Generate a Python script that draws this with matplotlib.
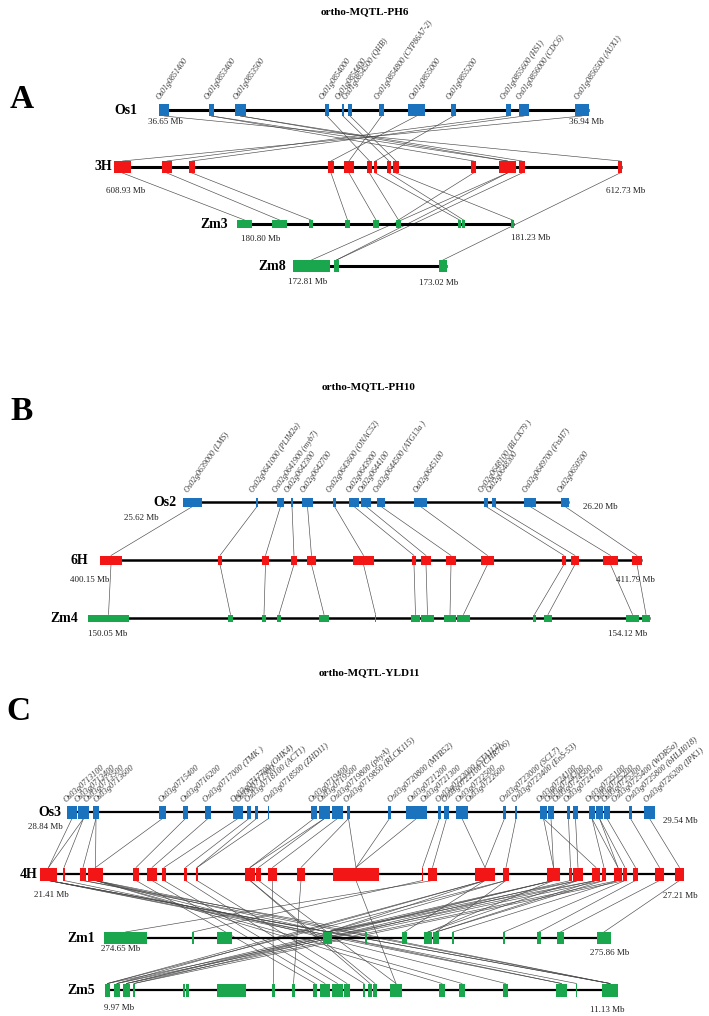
import matplotlib
matplotlib.use("Agg")
import matplotlib.pyplot as plt

plt.rcParams['font.family'] = ['Liberation Serif', 'DejaVu Serif']

# ---------------- DATA ----------------
# Panel A  (block spans along each track, chart x units)
A_os1 = [(159,169),(209,214),(235,246),(325,329),(342,344),(348,352),(379,384),
         (408,425),(451,456),(506,511),(519,529),(575,589)]
A_3h = [(114,131),(162,172),(189,195),(328,334),(344,354),(367,372),(374,377),
        (387,391),(393,399),(471,476),(499,516),(519,525),(618,622)]
A_zm3 = [(237,252),(272,287),(309,313),(345,350),(373,379),(396,401),(458,461),
         (462,465),(511,514)]
A_zm8 = [(293,330),(334,339),(439,447)]
A_genes = ["Os01g0851400", "Os01g0853400", "Os01g0853500", "Os01g0854000",
           "Os01g0854400", "Os01g0854500 (QHB)", "Os01g0854800 (CYP86A7-2)",
           "Os01g0855000", "Os01g0855200", "Os01g0855600 (HS1)",
           "Os01g0856000 (CDC6)", "Os01g0856500 (AUX1)"]
A_links_os1_3h = [(0,12),(1,9),(1,10),(2,10),(2,11),(3,5),(4,7),(5,8),(6,4),
                  (7,3),(8,6),(9,1),(10,2),(11,0)]
A_links_3h_zm3 = [(0,0),(1,1),(2,2),(3,3),(4,4),(5,5),(6,6),(7,7),(8,8),(9,5)]
A_links_3h_zm8 = [(10,0),(10,1),(11,1),(12,2)]
A_mb = [("36.65 Mb","36.94 Mb"),("608.93 Mb","612.73 Mb"),
        ("180.80 Mb","181.23 Mb"),("172.81 Mb","173.02 Mb")]

# Panel B
B_os2 = [(183,202),(256,258),(277,284),(291,293),(302,313),(333,336),(349,359),
         (361,371),(377,385),(414,427),(484,488),(492,496),(524,536),(561,569)]
B_6h = [(100,122),(218,222),(262,269),(291,297),(307,316),(353,374),(412,416),
        (421,431),(446,456),(481,494),(562,566),(571,579),(603,618),(632,642)]
B_zm4 = [(88,129),(228,233),(262,266),(277,281),(319,329),(375,376),(411,420),
         (421,434),(444,456),(457,470),(533,536),(544,552),(626,639),(642,650)]
B_genes = ["Os02g0639000 (LMS)", "Os02g0641000 (PLIM2a)", "Os02g0641900 (myb7)",
           "Os02g0642300", "Os02g0642700", "Os02g0643600 (ONAC52)",
           "Os02g0643900", "Os02g0644100", "Os02g0644500 (ATG13a )",
           "Os02g0645100", "Os02g0648100 (BLCK79 )", "Os02g0648300",
           "Os02g0649700 (FtsH7)", "Os02g0650500"]
B_links_os2_6h = [(i, i) for i in range(14)]
B_links_6h_zm4 = [(i, i) for i in range(14)]
B_mb = [("25.62 Mb","26.20 Mb"),("400.15 Mb","411.79 Mb"),("150.05 Mb","154.12 Mb")]

# Panel C
C_os3 = [(67,77),(78,89),(93,99),(159,166),(183,188),(205,211),(233,243),(247,251),
         (255,258),(268,269),(311,317),(319,330),(332,343),(347,350),(388,391),
         (406,427),(438,441),(444,449),(456,468),(503,506),(515,517),(540,547),
         (548,554),(567,570),(573,578),(589,595),(596,603),(604,610),(629,632),
         (644,655)]
C_4h = [(40,57),(63,65),(80,86),(88,103),(133,139),(147,157),(162,166),(184,187),
        (196,198),(245,255),(256,261),(268,277),(297,305),(333,379),(422,423),
        (428,437),(475,495),(503,509),(547,560),(569,572),(573,583),(592,600),
        (602,606),(614,622),(623,627),(633,638),(655,664),(675,684)]
C_zm1 = [(104,147),(192,194),(217,232),(323,332),(365,367),(402,407),(424,432),
         (433,439),(452,454),(503,505),(537,541),(557,564),(597,611)]
C_zm5 = [(105,110),(114,120),(123,130),(133,135),(183,185),(186,189),(217,233),
         (233,246),(272,275),(292,295),(313,317),(320,330),(332,343),(344,350),
         (363,365),(368,372),(373,377),(390,402),(439,445),(459,465),(503,508),
         (556,567),(576,577),(602,618)]
C_genes = ["Os03g0713100", "Os03g0713400", "Os03g0713500", "Os03g0713600",
           "Os03g0715400", "Os03g0716200", "Os03g0717000 (TMK )",
           "Os03g0717700 (OHK4)", "Os03g0717900", "Os03g0718100 (ACT1)",
           "Os03g0718500 (ZHD11)", "Os03g0719400", "Os03g0719500",
           "Os03g0719800 (phyA)", "Os03g0719850 (RLCK115)", "Os03g0720800 (MYB52)",
           "Os03g0721200", "Os03g0721300", "Os03g0722000 (STA112)",
           "Os03g0722100 (CHR706)", "Os03g0722500", "Os03g0722600",
           "Os03g0723000 (SCL7)", "Os03g0723400 (EnS-53)", "Os03g0724100",
           "Os03g0724300", "Os03g0724500", "Os03g0724700", "Os03g0725100",
           "Os03g0725200", "Os03g0725300", "Os03g0725400 (WDR5a)",
           "Os03g0725800 (bHLH018)", "Os03g0726200 (IPK1)"]
C_gene_pos = [68, 79, 88, 98, 163, 185, 207, 235, 240, 249, 268, 313, 322, 335,
              348, 392, 412, 425, 440, 446, 460, 470, 504, 516, 541, 549, 557,
              568, 590, 598, 606, 616, 630, 648]
C_links_os3_4h = [(0,0),(1,0),(1,1),(2,2),(2,3),(3,3),(4,4),(5,5),(6,6),(7,7),
                  (8,8),(9,8),(10,9),(11,9),(11,10),(12,11),(13,12),(13,13),
                  (14,13),(15,13),(16,14),(17,15),(18,16),(19,16),(20,17),
                  (21,18),(21,21),(22,18),(23,19),(24,20),(25,22),(25,23),
                  (26,23),(26,24),(27,25),(28,26),(29,27)]
C_links_4h_zm1 = [(15,0),(14,1),(0,3),(3,3),(16,3),(17,3),(18,3),(20,3),(21,3),
                  (2,4),(16,5),(18,6),(20,6),(17,7),(21,7),(22,7),(23,8),
                  (24,9),(25,10),(26,11),(27,12)]
C_links_4h_zm5 = [(0,23),(0,23),(0,21),(0,22),(1,21),(2,23),(3,23),(3,20),(3,19),
                  (3,18),(4,10),(5,11),(6,12),(7,13),(8,14),(9,15),(9,16),
                  (10,17),(11,8),(12,9),(13,17),(16,0),(16,1),(17,0),(18,1),
                  (18,2),(19,2),(20,3),(21,0),(22,1),(23,2),(24,3)]
C_mb = [("28.84 Mb","29.54 Mb"),("21.41 Mb","27.21 Mb"),
        ("274.65 Mb","275.86 Mb"),("9.97 Mb","11.13 Mb")]

# ---------------- STYLE / LAYOUT ----------------
BLUE, RED, GREEN = '#1b73bd', '#f21616', '#1aa64c'
LINK = '#4a4a4a'
W, H = 709, 1016
fig = plt.figure(figsize=(W / 100, H / 100), dpi=100)
ax = fig.add_axes([0, 0, 1, 1])
ax.set_xlim(0, W)
ax.set_ylim(H, 0)
ax.axis('off')


def track(blocks, y, h, color, name, name_x, mbs, mb_pos, lw=2.2):
    x0 = min(b[0] for b in blocks)
    x1 = max(b[1] for b in blocks)
    ax.hlines(y, x0, x1, color='black', lw=lw, zorder=2)
    ax.broken_barh([(a, b - a) for a, b in blocks], (y - h / 2, h),
                   facecolors=color, edgecolor='none', zorder=3)
    ax.text(name_x, y, name, ha='center', va='center', fontsize=10,
            fontweight='bold', zorder=4)
    for txt, (mx, my) in zip(mbs, mb_pos):
        ax.text(mx, my, txt, ha='center', va='center', fontsize=6.5,
                color='#222222', zorder=4)
    return dict(blocks=blocks, y=y, h=h)


def links(src, dst, pairs):
    for i, j in pairs:
        a, b = src['blocks'][i], dst['blocks'][j]
        ax.plot([(a[0] + a[1]) / 2, (b[0] + b[1]) / 2],
                [src['y'] + src['h'] / 2, dst['y'] - dst['h'] / 2],
                color=LINK, lw=0.45, zorder=1)


def gene_labels(xs, y, names, rot, fs):
    for x, t in zip(xs, names):
        ax.text(x, y, t, rotation=rot, rotation_mode='anchor', ha='left',
                va='bottom', fontsize=fs, style='italic', color='#3a3a3a')


def center(blocks):
    return [(a + b) / 2 - 2 for a, b in blocks]


# ---- Panel A ----
ax.text(365, 12, 'ortho-MQTL-PH6', ha='center', va='center', fontsize=8, fontweight='bold')
ax.text(22, 100, 'A', ha='center', va='center', fontsize=24, fontweight='bold')
tA0 = track(A_os1, 110, 12, BLUE, 'Os1', 126, A_mb[0], [(165, 122), (586, 122)])
tA1 = track(A_3h, 167, 12, RED, '3H', 103, A_mb[1], [(126, 191), (626, 191)])
tA2 = track(A_zm3, 224, 8, GREEN, 'Zm3', 214, A_mb[2], [(261, 239), (531, 238)])
tA3 = track(A_zm8, 266, 12, GREEN, 'Zm8', 272, A_mb[3], [(308, 282), (439, 283)])
links(tA0, tA1, A_links_os1_3h)
links(tA1, tA2, A_links_3h_zm3)
links(tA1, tA3, A_links_3h_zm8)
gene_labels(center(A_os1), 101, A_genes, 55, 5.8)

# ---- Panel B ----
ax.text(369, 387, 'ortho-MQTL-PH10', ha='center', va='center', fontsize=8, fontweight='bold')
ax.text(22, 412, 'B', ha='center', va='center', fontsize=24, fontweight='bold')
tB0 = track(B_os2, 502, 9, BLUE, 'Os2', 165, B_mb[0], [(141, 518), (600, 507)], lw=1.8)
tB1 = track(B_6h, 560, 9, RED, '6H', 79, B_mb[1], [(90, 580), (635, 580)], lw=1.8)
tB2 = track(B_zm4, 618, 7, GREEN, 'Zm4', 64, B_mb[2], [(108, 634), (628, 634)], lw=1.8)
links(tB0, tB1, B_links_os2_6h)
links(tB1, tB2, B_links_6h_zm4)
gene_labels(center(B_os2), 494, B_genes, 55, 5.8)

# ---- Panel C ----
ax.text(369, 673, 'ortho-MQTL-YLD11', ha='center', va='center', fontsize=8, fontweight='bold')
ax.text(18, 712, 'C', ha='center', va='center', fontsize=24, fontweight='bold')
tC0 = track(C_os3, 812, 13, BLUE, 'Os3', 50, C_mb[0], [(45, 827), (680, 821)], lw=1.6)
tC1 = track(C_4h, 874, 13, RED, '4H', 29, C_mb[1], [(51, 895), (680, 896)], lw=1.6)
tC2 = track(C_zm1, 938, 12, GREEN, 'Zm1', 81, C_mb[2], [(121, 949), (610, 953)], lw=1.6)
tC3 = track(C_zm5, 990, 13, GREEN, 'Zm5', 81, C_mb[3], [(119, 1008), (607, 1010)], lw=1.6)
links(tC0, tC1, C_links_os3_4h)
links(tC1, tC2, C_links_4h_zm1)
links(tC1, tC3, C_links_4h_zm5)
gene_labels(C_gene_pos, 804, C_genes, 42, 6.0)

fig.savefig('out.png', dpi=100)
